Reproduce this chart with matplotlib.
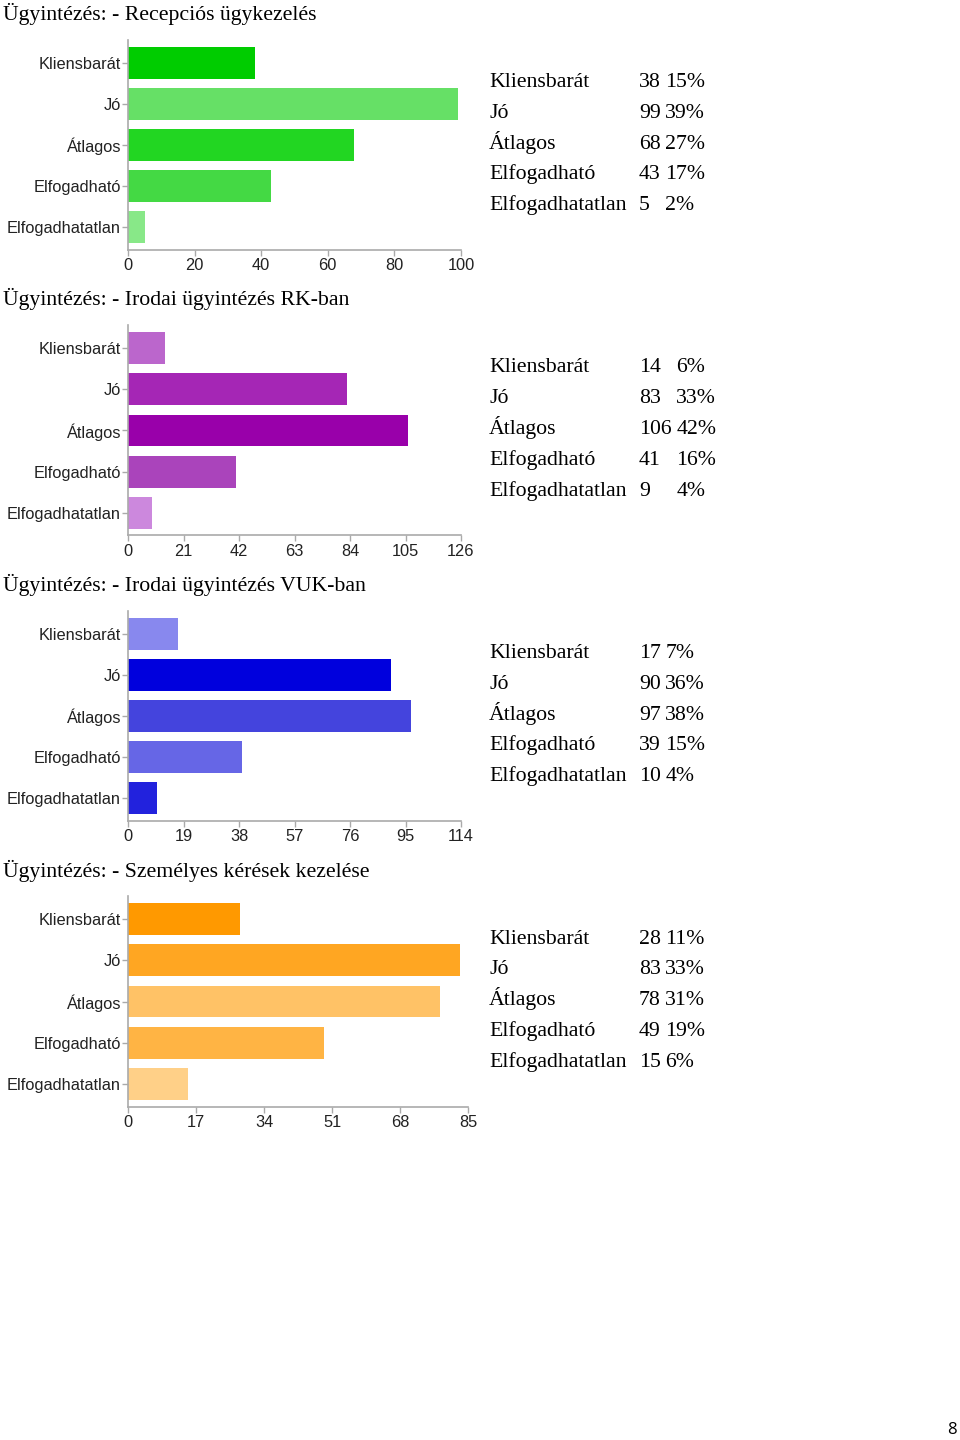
import matplotlib
matplotlib.use("Agg")
import matplotlib.pyplot as plt
import numpy as np

# adatok
categories = ["Kliensbarát", "Jó", "Átlagos", "Elfogadható", "Elfogadhatatlan"]
titles = ["Ügyintézés: - Recepciós ügykezelés",
          "Ügyintézés: - Irodai ügyintézés RK-ban",
          "Ügyintézés: - Irodai ügyintézés VUK-ban",
          "Ügyintézés: - Személyes kérések kezelése"]

recepcio = [38, 99, 68, 43, 5]
rk = [14, 83, 106, 41, 9]
vuk = [17, 90, 97, 39, 10]
szemelyes = [28, 83, 78, 49, 15]

recepcio_pct = [15, 39, 27, 17, 2]
rk_pct = [6, 33, 42, 16, 4]
vuk_pct = [7, 36, 38, 15, 4]
szemelyes_pct = [11, 33, 31, 19, 6]

xmax = [100, 126, 114, 85]
xstep = [20, 21, 19, 17]

green = ["#00cc00", "#66e066", "#22d622", "#44d944", "#88e888"]
purple = ["#bb66cc", "#a526b5", "#9900aa", "#aa44bb", "#cc88dd"]
blue = ["#8888ee", "#0000dd", "#4444dd", "#6666e6", "#2222dd"]
orange = ["#ff9900", "#ffa622", "#ffc266", "#ffb444", "#ffd088"]

counts = [recepcio, rk, vuk, szemelyes]
pcts = [recepcio_pct, rk_pct, vuk_pct, szemelyes_pct]
colors = [green, purple, blue, orange]

W, H = 960, 1440
fig = plt.figure(figsize=(W/100, H/100), dpi=100)

def fx(x):
    return x / W

def fy(y):
    return 1 - y / H

serif = dict(family="Liberation Serif", fontsize=15.7, va="baseline", ha="left")

step = 285.5
for i in range(4):
    off = i * step
    # cim
    fig.text(fx(3), fy(20 + off), titles[i], **serif)

    axw = 340 if i == 3 else 333
    ax = fig.add_axes([fx(128), fy(250 + off), fx(axw), 210 / H])
    y = np.arange(len(categories))
    ax.barh(y, counts[i], height=0.78, color=colors[i])
    ax.set_ylim(4.56, -0.56)
    ax.set_xlim(0, xmax[i])
    ax.set_xticks(np.arange(0, xmax[i] + 1, xstep[i]))
    ax.set_yticks(y)
    ax.set_yticklabels(categories)
    for s in ["top", "right"]:
        ax.spines[s].set_visible(False)
    for s in ["left", "bottom"]:
        ax.spines[s].set_color("#aaaaaa")
        ax.spines[s].set_linewidth(1.2)
    ax.tick_params(colors="#aaaaaa", length=4, width=1)
    ax.tick_params(axis="y", pad=1)
    ax.tick_params(axis="x", pad=2)
    ax.tick_params(labelcolor="#222222", labelsize=11.8)
    for lab in ax.get_xticklabels() + ax.get_yticklabels():
        lab.set_family("Liberation Sans")

    # tablazat jobbra
    nd = max(len(str(c)) for c in counts[i])
    px = 639 + nd * 10.95 + 4.5
    for j, cat in enumerate(categories):
        yy = fy(87 + off + j * 30.8)
        fig.text(fx(489), yy, cat, **serif)
        fig.text(fx(639), yy, str(counts[i][j]), **serif)
        fig.text(fx(px), yy, f"{pcts[i][j]}%", **serif)

fig.text(fx(957), fy(1430), "8", family="Open Sans", fontsize=12,
         va="center", ha="right")

fig.savefig("out.png", dpi=100)
